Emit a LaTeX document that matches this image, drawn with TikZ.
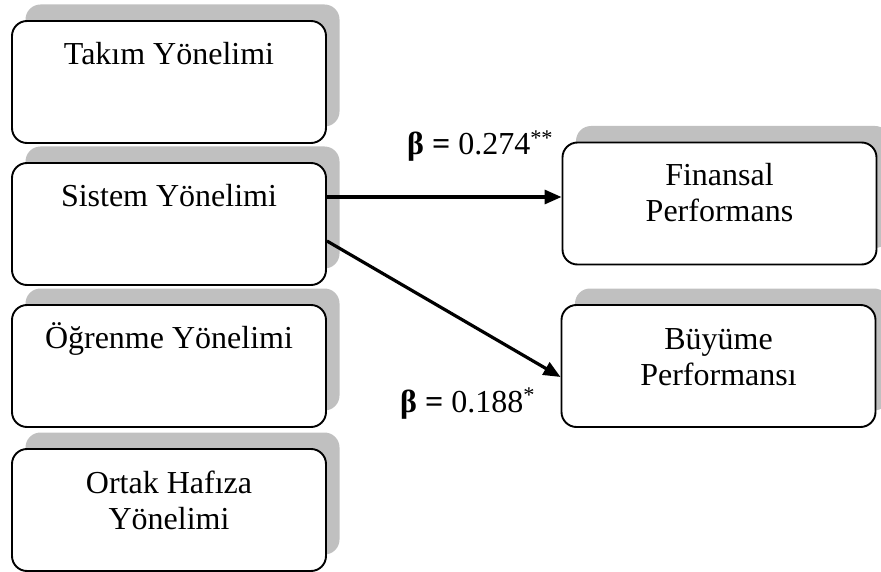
\documentclass[tikz,border=0pt]{standalone}
\usepackage{fontspec}
\setmainfont{Liberation Serif}
\usetikzlibrary{shadows,arrows.meta}
\definecolor{shadowgray}{HTML}{C0C0C0}
\begin{document}
\begin{tikzpicture}[x=1pt,y=-1pt,
  box/.style={draw=black, line width=1.9pt, rounded corners=15pt, fill=white,
    minimum width=314pt, minimum height=122pt, inner sep=0pt,
    general shadow={fill=shadowgray, shadow xshift=13.5pt, shadow yshift=16.5pt}},
  lbl/.style={anchor=north, inner sep=0pt, align=center, font=\fontsize{32}{36}\selectfont},
  coef/.style={anchor=base west, inner sep=0pt, font=\fontsize{32}{36}\selectfont},
  arr/.style={line width=3.2pt, -{Triangle[length=17pt,width=14pt]}}]
\useasboundingbox (0,0) rectangle (881,572);
% boxes
\node[box] (tak) at (169,82) {};
\node[box] (sis) at (169,224) {};
\node[box] (ogr) at (169,366) {};
\node[box] (ort) at (169,510) {};
\node[box] (fin) at (719.5,203.5) {};
\node[box] (buy) at (718.5,366) {};
% texts
\node[lbl] (takT) at ([yshift=-15pt]tak.north) {\rule{0pt}{29pt}Takım Yönelimi};
\node[lbl] (sisT) at ([yshift=-15pt]sis.north) {\rule{0pt}{29pt}Sistem Yönelimi};
\node[lbl] (ogrT) at ([yshift=-15pt]ogr.north) {\rule{0pt}{29pt}Öğrenme Yönelimi};
\node[lbl] (ortT) at ([yshift=-16pt]ort.north) {\rule{0pt}{29pt}Ortak Hafıza\\Yönelimi};
\node[lbl] (finT) at ([yshift=-15pt]fin.north) {\rule{0pt}{29pt}Finansal\\Performans};
\node[lbl] (buyT) at ([yshift=-16pt]buy.north) {\rule{0pt}{29pt}Büyüme\\Performansı};
% arrows
\coordinate (a1s) at ([yshift=27pt]sis.east);
\draw[arr] (a1s) -- (a1s -| fin.west);
\draw[arr] ([yshift=-17pt]sis.east) -- ([yshift=-11pt]buy.west);
% coefficients
\node[coef] (b1) at (407,155) {\textbf{β =} 0.274\textsuperscript{**}};
\node[coef] (b2) at (400,412) {\textbf{β =} 0.188\textsuperscript{*}};
\end{tikzpicture}
\end{document}
